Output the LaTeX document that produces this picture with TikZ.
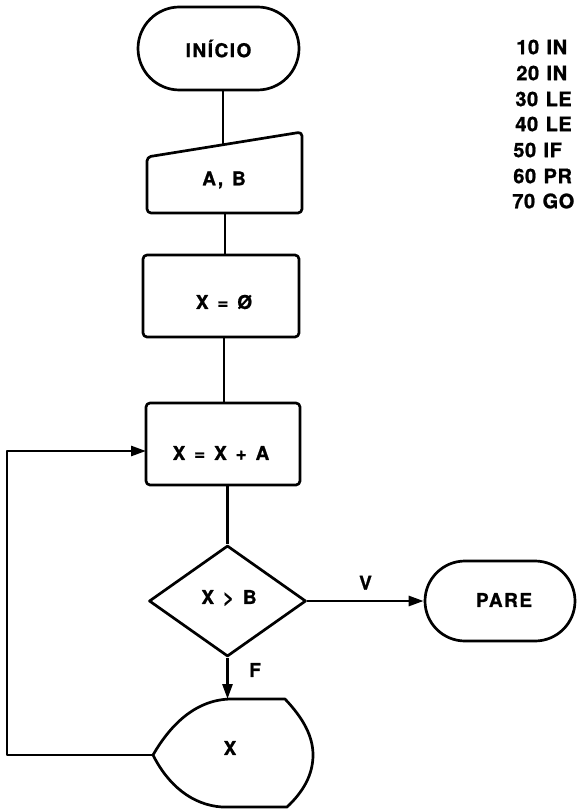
\documentclass[tikz,border=0pt]{standalone}
\usepackage{fontspec}
\setmainfont{TeX Gyre Heros}
\newfontfamily\labfont[LetterSpace=8,WordSpace=1.3,FakeBold=1]{TeX Gyre Heros}
\newfontfamily\codefont[LetterSpace=3,WordSpace=1.2,FakeBold=1]{TeX Gyre Heros}
\usetikzlibrary{arrows.meta,shapes.misc,shapes.geometric}
\begin{document}
\begin{tikzpicture}[x=1pt,y=-1pt,
  line width=2.7pt, line join=round,
  lab/.style={font=\labfont\fontsize{19}{19}\selectfont\bfseries, inner sep=0pt},
  code/.style={font=\codefont\fontsize{20}{20}\selectfont\bfseries, anchor=west, inner sep=0pt},
  term/.style={draw, rounded rectangle, inner sep=0pt},
  flow/.style={-{Triangle[length=15pt,width=10pt]}},
  box/.style={rounded corners=4pt}
]
\useasboundingbox (0,0) rectangle (577,810);

% INICIO terminal
\node[term, minimum width=161pt, minimum height=83pt] (inicio) at (218.5,48.5) {};
\node[lab] (tinicio) at (218.5,48.5) {INÍCIO};
\coordinate (inicioB) at (223,90);

% manual input A,B
\draw[box] (147,157) -- (302,132) -- (302,213) -- (147,213) -- cycle;
\coordinate (inTop) at (223,144.8);
\coordinate (inB) at (225,213);
\node[lab] (tab) at (224,180) {A, B};

% X = 0
\draw[box] (143,255) rectangle (299,337);
\coordinate (x0T) at (225,255);
\coordinate (x0B) at (224,337);
\node[lab] (tx0) at (224,302) {X = Ø};

% X = X + A
\draw[box] (146,403) rectangle (300,485);
\coordinate (xaT) at (224,403);
\coordinate (xaB) at (227.5,485);
\coordinate (xaL) at (146,451);
\node[lab] (txa) at (221,453) {X = X + A};

% decision
\node[draw, diamond, aspect=1.414, minimum width=157pt, minimum height=111pt, inner sep=0pt] (dec) at (227.5,601) {};
\node[lab] (tdec) at (229,598) {X > B};

% PARE terminal
\node[term, minimum width=150pt, minimum height=80pt] (pare) at (500,601) {};
\node[lab] (tpare) at (504,600) {PARE};

% display
\draw (153,755) .. controls (172,722) and (198,699) .. (232,699) -- (285,699)
  .. controls (303,718) and (313,736) .. (313,755)
  .. controls (313,775) and (303,792) .. (287,807)
  -- (222,807) .. controls (192,805) and (168,785) .. (153,755);
\coordinate (dispT) at (227.5,699);
\coordinate (dispL) at (153,755);
\node[lab] (tdisp) at (230,748) {X};

% connectors
\draw (inicioB) -- (inTop);
\draw (inB) -- (x0T);
\draw (x0B) -- (xaT);
\draw (xaB) -- (dec.north);
\draw[flow] (dec.east) -- (pare.west) node[midway, above=10pt, lab] (lv) {V};
\draw[flow] (dec.south) -- (dispT);
\node[lab] (lf) at (255,670) {F};
\coordinate (c1) at (7,755);
\coordinate (c2) at (7,451);
\draw[flow] (dispL) -- (c1) -- (c2) -- (xaL);

% program listing
\node[code] (l10) at (515,47) {10 IN};
\node[code] (l20) at (515,73) {20 IN};
\node[code] (l30) at (514,99) {30 LE};
\node[code] (l40) at (514,124) {40 LE};
\node[code] (l50) at (512,150) {50 IF};
\node[code] (l60) at (512,176) {60 PR};
\node[code] (l70) at (511,201) {70 GO};
\end{tikzpicture}
\end{document}
